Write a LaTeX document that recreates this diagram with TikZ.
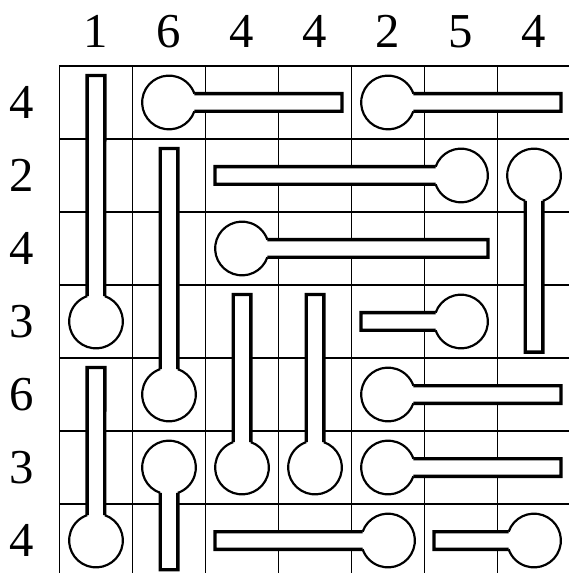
\documentclass[tikz,border=0pt]{standalone}
\usepackage{fontspec}
\setmainfont{Liberation Serif}

\def\tubew{0.121}
\def\bulbr{0.368}
\pgfmathsetmacro\bulba{asin(0.121/0.368)}

\newcommand{\thermo}[4]{%
  \begin{scope}[shift={(#1+0.5,6.5-#2)}, rotate=#3]
    \fill[white] (\bulba:\bulbr) -- (#4,\tubew) -- (#4,-\tubew) -- (-\bulba:\bulbr)
      arc[start angle=-\bulba, end angle=\bulba-360, radius=\bulbr] -- cycle;
    \draw[tube] (\bulba:\bulbr) -- (#4,\tubew) -- (#4,-\tubew) -- (-\bulba:\bulbr);
    \draw[bulb] (-\bulba:\bulbr) arc[start angle=-\bulba, end angle=\bulba-360, radius=\bulbr];
  \end{scope}}

\begin{document}
\begin{tikzpicture}[
    clue/.style={inner sep=0pt, font=\fontsize{19}{19}\selectfont},
    gridline/.style={line width=0.6pt},
    tube/.style={line width=1.3pt, line join=miter},
    bulb/.style={line width=0.85pt}
  ]
    \useasboundingbox (-0.815,0.055) rectangle (6.979,7.904);
    \draw[gridline] (0,0) grid (7,7);

    \foreach \n [count=\i from 0] in {1,6,4,4,2,5,4}
      \node[clue] (col\i) at (\i+0.5,7.47) {\n};
    \foreach \n [count=\i from 0] in {4,2,4,3,6,3,4}
      \node[clue] (row\i) at (-0.52,6.5-\i) {\n};

    \foreach \c/\r/\d/\l in {0/3/90/3.37, 1/0/0/2.37, 4/0/0/2.37, 5/1/180/3.37,
        1/4/90/3.37, 6/1/-90/2.42, 2/2/0/3.37, 2/5/90/2.37, 3/5/90/2.37,
        5/3/180/1.37, 0/6/90/2.37, 4/4/0/2.37, 4/5/0/2.37, 1/5/-90/1.4,
        4/6/180/2.37, 6/6/180/1.37}
      \thermo{\c}{\r}{\d}{\l};
  \end{tikzpicture}
\end{document}
